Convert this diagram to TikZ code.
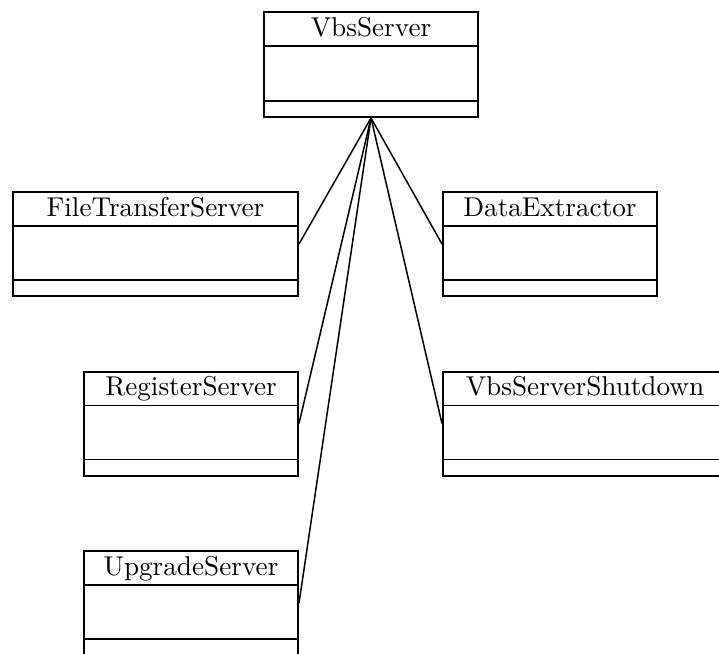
\documentclass[tikz,border=0pt]{standalone}
\usetikzlibrary{positioning}
\begin{document}
\begin{tikzpicture}[x=1pt,y=-1pt,
  cls/.style={draw, line width=2pt, rectangle, minimum height=104pt, inner sep=0pt, fill=white},
  ttl/.style={anchor=base, inner sep=0pt},
  sep/.style={line width=1.6pt},
  assoc/.style={line width=1.5pt}]
\useasboundingbox (0,0) rectangle (719,653);

% class boxes (name compartment, attributes, operations)
\node[cls, minimum width=214pt, minimum height=105pt] (vbs) at (371,64.5) {};
\node[cls, minimum width=285pt] (fts) at (155.5,244) {};
\node[cls, minimum width=214pt] (dex) at (550,244) {};
\node[cls, minimum width=214pt] (reg) at (191,423.5) {};
\node[cls, minimum width=284pt] (vsd) at (585,423.5) {};
\node[cls, minimum width=214pt] (upg) at (191,603) {};

% class names and compartment separators
\foreach \n/\t in {vbs/VbsServer, fts/FileTransferServer, dex/DataExtractor,
                   reg/RegisterServer, vsd/VbsServerShutdown, upg/UpgradeServer}{
  \node[ttl] (\n-name) at ([yshift=-25pt]\n.north) {\scalebox{2.72}{\t}};
  \draw[sep] ([yshift=-35pt]\n.north west) -- ([yshift=-35pt]\n.north east);
  \draw[sep] ([yshift=17pt]\n.south west) -- ([yshift=17pt]\n.south east);
}

% associations from the server to its components
\draw[assoc] (vbs.south) -- (fts.east);
\draw[assoc] (vbs.south) -- (reg.east);
\draw[assoc] (vbs.south) -- (upg.east);
\draw[assoc] (vbs.south) -- (dex.west);
\draw[assoc] (vbs.south) -- (vsd.west);
\end{tikzpicture}
\end{document}
